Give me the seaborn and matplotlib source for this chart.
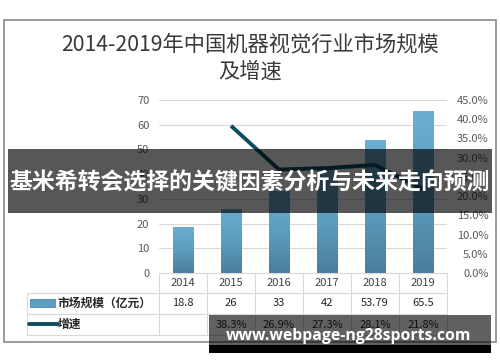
import numpy as np
import pandas as pd
import matplotlib
matplotlib.use('Agg')
import matplotlib.pyplot as plt
import seaborn as sns
from matplotlib.patches import Rectangle
from matplotlib.lines import Line2D
from matplotlib.colors import LinearSegmentedColormap
from matplotlib.ticker import PercentFormatter
import matplotlib.transforms as mtransforms

# chart data
years = ['2014', '2015', '2016', '2017', '2018', '2019']
market_size = [18.8, 26, 33, 42, 53.79, 65.5]          # 亿元
growth = [np.nan, 0.383, 0.269, 0.273, 0.281, 0.218]
size_labels = ['18.8', '26', '33', '42', '53.79', '65.5']
growth_labels = ['', '38.3%', '26.9%', '27.3%', '28.1%', '21.8%']

title = '2014-2019年中国机器视觉行业市场规模\n及增速'
row_names = ['市场规模（亿元）', '增速']
banner = '基米希转会选择的关键因素分析与未来走向预测'
watermark = 'www.webpage-ng28sports.com'

sns.set_style('white')
plt.rcParams['font.family'] = ['Noto Sans CJK SC', 'DejaVu Sans']

W, H = 500, 362
fig = plt.figure(figsize=(W / 100, H / 100), dpi=100)


def fx(x):
    return x / W


def fy(y):
    return 1 - y / H


# outer frame
fig.add_artist(Rectangle((fx(4), fy(342)), fx(492), (342 - 20) / H, transform=fig.transFigure,
                         fill=False, edgecolor='#8a8a8a', lw=1.2))
fig.text(0.5, fy(58), title, ha='center', va='center', fontsize=15.3, color='#3a3a3a',
         linespacing=1.3)

ax = fig.add_axes([fx(159), fy(273), (447 - 159) / W, (273 - 100) / H])
df = pd.DataFrame({'year': years, 'size': market_size})
sns.barplot(data=df, x='year', y='size', ax=ax, width=0.42, color='#5c9fc2',
            edgecolor='#4a86a6', linewidth=0.6, zorder=2)

# vertical gradient on bars
cmap = LinearSegmentedColormap.from_list('bar', ['#4a7f9c', '#5d9dbf', '#6aaed1'])
grad = np.linspace(0, 1, 100).reshape(-1, 1)
for p in ax.patches:
    x0, y0 = p.get_x(), p.get_y()
    w, h = p.get_width(), p.get_height()
    im = ax.imshow(grad, extent=[x0, x0 + w, y0, y0 + h], origin='lower', aspect='auto',
                   cmap=cmap, zorder=2.5)
    im.set_clip_path(p)

ax.set_xlim(-0.5, len(years) - 0.5)
ax.set_ylim(0, 70)
ax.set_yticks(range(0, 71, 10))
ax.yaxis.grid(True, color='#d9d9d9', lw=0.8)
ax.set_axisbelow(True)
ax.set_xticks([])
ax.set_xlabel('')
ax.set_ylabel('')
for s in ax.spines.values():
    s.set_visible(False)
ax.tick_params(axis='y', length=0, pad=7, labelsize=8, labelcolor='#595959')

ax2 = ax.twinx()
line_df = pd.DataFrame({'pos': np.arange(len(years)), 'growth': growth}).dropna()
sns.lineplot(data=line_df, x='pos', y='growth', ax=ax2, color='#0f4b60', lw=2.8,
             solid_capstyle='butt')
ax2.set_ylim(0, 0.45)
ax2.set_yticks(np.arange(0, 0.451, 0.05))
ax2.yaxis.set_major_formatter(PercentFormatter(1.0, decimals=1))
ax2.set_xlim(-0.5, len(years) - 0.5)
ax2.set_xlabel('')
ax2.set_ylabel('')
for s in ax2.spines.values():
    s.set_visible(False)
ax2.tick_params(axis='y', length=0, pad=30, labelsize=8, labelcolor='#595959')
for lab in ax2.get_yticklabels():
    lab.set_horizontalalignment('right')

# data table below the axes
tr = mtransforms.blended_transform_factory(ax.transData, fig.transFigure)
grid_c = '#d9d9d9'
edges = np.arange(len(years) + 1) - 0.5
for e in edges:
    fig.add_artist(Line2D([e, e], [fy(273), fy(335)], transform=tr, color=grid_c, lw=0.8))
fig.add_artist(Line2D([edges[0], edges[-1]], [fy(273), fy(273)], transform=tr, color=grid_c, lw=0.8))
for yy in (293, 314, 335):
    fig.add_artist(Line2D([fx(27), fx(447)], [fy(yy), fy(yy)], transform=fig.transFigure,
                          color=grid_c, lw=0.8))
fig.add_artist(Line2D([fx(27), fx(27)], [fy(293), fy(335)], transform=fig.transFigure,
                      color=grid_c, lw=0.8))

for i, yr in enumerate(years):
    fig.text(i, fy(283), yr, transform=tr, ha='center', va='center', fontsize=8, color='#404040')
    fig.text(i, fy(303.5), size_labels[i], transform=tr, ha='center', va='center', fontsize=8,
             color='#262626')
    fig.text(i, fy(324.5), growth_labels[i], transform=tr, ha='center', va='center', fontsize=8,
             color='#262626')

# row legend keys
fig.add_artist(Rectangle((fx(30), fy(307)), fx(25), 8 / H, transform=fig.transFigure,
                         facecolor='#5c9fc2', edgecolor='#4a86a6', lw=0.6))
fig.add_artist(Line2D([fx(29), fx(58)], [fy(324), fy(324)], transform=fig.transFigure,
                      color='#0f4b60', lw=2.8))
fig.text(fx(57), fy(303.5), row_names[0], ha='left', va='center', fontsize=8.5, color='#262626',
         fontweight='bold')
fig.text(fx(58), fy(324.5), row_names[1], ha='left', va='center', fontsize=8.5, color='#262626',
         fontweight='bold')

# overlay banner
fig.add_artist(Rectangle((fx(8), fy(213)), fx(484), (213 - 149) / H, transform=fig.transFigure,
                         facecolor='black', alpha=0.66, edgecolor='none', zorder=10))
fig.text(0.5, fy(183), banner, ha='center', va='center', fontsize=16.5, color='white',
         fontweight='bold', zorder=11)

# watermark
fig.add_artist(Rectangle((fx(209), fy(345)), fx(282), 30 / H, transform=fig.transFigure,
                         facecolor='black', alpha=0.62, edgecolor='none', zorder=10))
fig.add_artist(Rectangle((fx(209), fy(353)), fx(282), 8 / H, transform=fig.transFigure,
                         facecolor='black', edgecolor='none', zorder=10))
fig.text(fx(349), fy(336), watermark, ha='center', va='center', fontsize=11.3, color='white',
         fontweight='bold', family='Open Sans', zorder=11)

fig.savefig('out.png', dpi=100)
